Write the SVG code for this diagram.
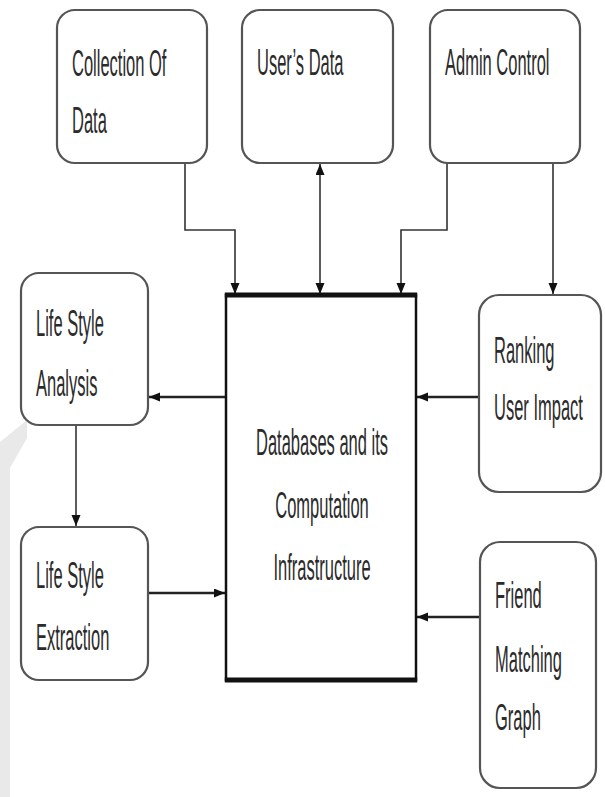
<svg xmlns="http://www.w3.org/2000/svg" width="605" height="797" viewBox="0 0 605 797">
<defs>
<style>
.box{fill:#fff;stroke:#555;stroke-width:2.2}
.main{fill:#fff;stroke:#111;stroke-width:2.5}
.t{font-family:"Liberation Sans",Arial,sans-serif;font-size:16.5px;fill:#2b2b2b}
.c{stroke:#333;stroke-width:1.6;fill:none}
.h{stroke:#222;stroke-width:2.4;fill:none}
</style>
<marker id="ah" markerUnits="userSpaceOnUse" markerWidth="12" markerHeight="10" refX="11" refY="4.5" orient="auto-start-reverse">
<path d="M0,0 L11,4.5 L0,9 z" fill="#111"/>
</marker>
</defs>
<rect width="605" height="797" fill="#fff"/>
<polygon points="0,442 27,420 27,438 10,468 10,797 0,797" fill="#e9e9e9"/>

<g id="connectors">
<path class="c" d="M185,163 V230 H235 V294" marker-end="url(#ah)"/>
<path class="c" d="M320,164 V294" marker-start="url(#ah)" marker-end="url(#ah)"/>
<path class="c" d="M447,163 V230 H401 V294" marker-end="url(#ah)"/>
<path class="c" d="M553,163 V294" marker-end="url(#ah)"/>
<path class="h" d="M226,397 H149" marker-end="url(#ah)"/>
<path class="c" d="M76,425 V526" marker-end="url(#ah)"/>
<path class="h" d="M148,593 H225" marker-end="url(#ah)"/>
<path class="h" d="M479,397 H417" marker-end="url(#ah)"/>
<path class="h" d="M480,617 H417" marker-end="url(#ah)"/>
</g>

<g id="collection">
<rect class="box" x="57" y="10" width="150" height="153" rx="18"/>
<text class="t" transform="translate(72,76) scale(1,2.2)">Collection Of</text>
<text class="t" transform="translate(72,133) scale(1,2.2)">Data</text>
</g>
<g id="users-data">
<rect class="box" x="242" y="10" width="151" height="153" rx="18"/>
<text class="t" transform="translate(257,75) scale(1,2.2)">User’s Data</text>
</g>
<g id="admin-control">
<rect class="box" x="430" y="10" width="150" height="153" rx="18"/>
<text class="t" transform="translate(445,75) scale(1,2.2)">Admin Control</text>
</g>
<g id="lifestyle-analysis">
<rect class="box" x="21" y="273" width="127" height="152" rx="18"/>
<text class="t" transform="translate(36,336) scale(1,2.2)">Life Style</text>
<text class="t" transform="translate(36,396) scale(1,2.2)">Analysis</text>
</g>
<g id="lifestyle-extraction">
<rect class="box" x="21" y="527" width="127" height="153" rx="18"/>
<text class="t" transform="translate(36,588) scale(1,2.2)">Life Style</text>
<text class="t" transform="translate(36,650) scale(1,2.2)">Extraction</text>
</g>
<g id="databases">
<rect class="main" x="226" y="295" width="190" height="385"/>
<line x1="224.8" y1="295" x2="417.2" y2="295" stroke="#111" stroke-width="5"/>
<line x1="224.8" y1="680" x2="417.2" y2="680" stroke="#111" stroke-width="5"/>
<text class="t" text-anchor="middle" transform="translate(322,455) scale(1,2.2)">Databases and its</text>
<text class="t" text-anchor="middle" transform="translate(322,518) scale(1,2.2)">Computation</text>
<text class="t" text-anchor="middle" transform="translate(322,580) scale(1,2.2)">Infrastructure</text>
</g>
<g id="ranking">
<rect class="box" x="479" y="295" width="122" height="197" rx="20"/>
<text class="t" transform="translate(494,363) scale(1,2.2)">Ranking</text>
<text class="t" transform="translate(494,420) scale(1,2.2)">User Impact</text>
</g>
<g id="friend">
<rect class="box" x="480" y="542" width="116" height="246" rx="20"/>
<text class="t" transform="translate(495,608) scale(1,2.2)">Friend</text>
<text class="t" transform="translate(495,672) scale(1,2.2)">Matching</text>
<text class="t" transform="translate(495,730) scale(1,2.2)">Graph</text>
</g>
</svg>
